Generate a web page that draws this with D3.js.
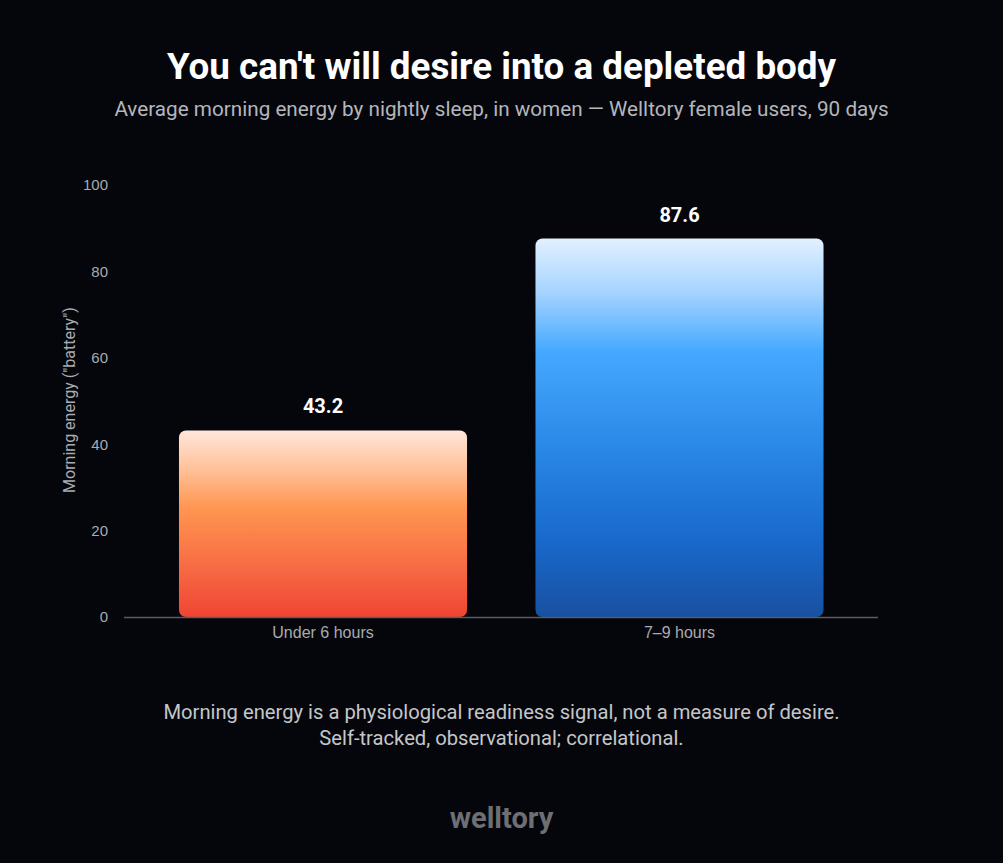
<!DOCTYPE html>
<html>
<head>
<meta charset="utf-8">
<script src="https://cdn.jsdelivr.net/npm/d3@7"></script>
<style>
  html, body { margin: 0; padding: 0; background: #05060b; }
  svg { display: block; font-family: Roboto, "Noto Sans", sans-serif; }
</style>
</head>
<body>
<svg id="chart" width="1003" height="863"></svg>
<script>
const categories = ["Under 6 hours", "7–9 hours"];
const energy = [43.2, 87.6];
const yTicks = [0, 20, 40, 60, 80, 100];

const title = "You can't will desire into a depleted body";
const subtitle = "Average morning energy by nightly sleep, in women — Welltory female users, 90 days";
const notes = [
    "Morning energy is a physiological readiness signal, not a measure of desire.",
    "Self-tracked, observational; correlational."
];

const svg = d3.select("#chart");
const W = 1003, H = 863;

svg.append("rect").attr("width", W).attr("height", H).attr("fill", "#05060b");

// Gradients
const defs = svg.append("defs");
const gradients = [
    { id: "grad-0", stops: [[0, "#ffe7dc"], [0.22, "#ffbf95"], [0.42, "#ff9550"], [0.7, "#f86f45"], [1, "#ef4534"]] },
    { id: "grad-1", stops: [[0, "#e2f1ff"], [0.14, "#a6d4ff"], [0.3, "#45a8ff"], [0.55, "#2a88e6"], [0.8, "#1869cc"], [1, "#1850a0"]] }
];
gradients.forEach(g => {
    const lg = defs.append("linearGradient")
        .attr("id", g.id)
        .attr("x1", 0).attr("y1", 0).attr("x2", 0).attr("y2", 1);
    g.stops.forEach(([o, c]) => lg.append("stop").attr("offset", o).attr("stop-color", c));
});
const gridFade = defs.append("linearGradient").attr("id", "grid-fade")
    .attr("x1", 0).attr("x2", 1).attr("y1", 0).attr("y2", 0);
gridFade.append("stop").attr("offset", 0).attr("stop-color", "#2a2c33").attr("stop-opacity", 0.3);
gridFade.append("stop").attr("offset", 0.06).attr("stop-color", "#2a2c33").attr("stop-opacity", 1);
gridFade.append("stop").attr("offset", 1).attr("stop-color", "#2a2c33").attr("stop-opacity", 1);

// Scales
const plotLeft = 124, plotRight = 878;
const yScale = d3.scaleLinear().domain([0, 100]).range([617, 185]);
const xScale = d3.scaleBand()
    .domain(categories)
    .range([144.75, 857.75])
    .paddingInner(0.192)
    .paddingOuter(0.096);

// Grid lines
svg.append("g")
    .selectAll("line")
    .data(yTicks.filter(t => t > 0))
    .enter().append("line")
    .attr("x1", plotLeft + 4).attr("x2", plotRight)
    .attr("y1", d => yScale(d)).attr("y2", d => yScale(d))
    .attr("stroke", "url(#grid-fade)")
    .attr("stroke-width", 1.2);

// Y axis
const yAxis = d3.axisLeft(yScale).tickValues(yTicks).tickSize(0).tickPadding(0);
svg.append("g")
    .attr("class", "y-axis")
    .attr("transform", "translate(108,0)")
    .call(yAxis)
    .call(g => g.select(".domain").remove())
    .selectAll("text")
    .attr("fill", "#a9abb0")
    .style("font-size", "15px");

// Bars
svg.append("g")
    .selectAll("rect")
    .data(energy)
    .enter().append("rect")
    .attr("x", (d, i) => xScale(categories[i]))
    .attr("y", d => yScale(d))
    .attr("width", xScale.bandwidth())
    .attr("height", d => yScale(0) - yScale(d))
    .attr("rx", 7)
    .attr("fill", (d, i) => `url(#grad-${i})`);

// Baseline
svg.append("line")
    .attr("x1", plotLeft).attr("x2", plotRight)
    .attr("y1", yScale(0) + 0.5).attr("y2", yScale(0) + 0.5)
    .attr("stroke", "#5a5c63").attr("stroke-width", 1.5);

// X axis labels
const xAxis = d3.axisBottom(xScale).tickSize(0).tickPadding(0);
svg.append("g")
    .attr("class", "x-axis")
    .attr("transform", `translate(0,${yScale(0) + 10})`)
    .call(xAxis)
    .call(g => g.select(".domain").remove())
    .selectAll("text")
    .attr("fill", "#a9abb0")
    .style("font-size", "16px")
    .attr("dy", "0.71em");

// Value labels
svg.append("g")
    .selectAll("text")
    .data(energy)
    .enter().append("text")
    .attr("x", (d, i) => xScale(categories[i]) + xScale.bandwidth() / 2)
    .attr("y", d => yScale(d) - 17)
    .attr("text-anchor", "middle")
    .attr("fill", "#ffffff")
    .style("font-size", "20px")
    .style("font-weight", "bold")
    .text(d => d.toFixed(1));

// Y axis label
svg.append("text")
    .attr("transform", "rotate(-90)")
    .attr("x", -400)
    .attr("y", 75)
    .attr("text-anchor", "middle")
    .attr("fill", "#a9abb0")
    .style("font-size", "16px")
    .text('Morning energy ("battery")');

// Title
svg.append("text")
    .attr("x", W / 2).attr("y", 79)
    .attr("text-anchor", "middle")
    .attr("fill", "#ffffff")
    .style("font-size", "36.8px")
    .style("font-weight", "bold")
    .text(title);

svg.append("text")
    .attr("x", W / 2).attr("y", 116)
    .attr("text-anchor", "middle")
    .attr("fill", "#b4b6bb")
    .style("font-size", "20.7px")
    .text(subtitle);

// Notes
svg.append("g")
    .selectAll("text")
    .data(notes)
    .enter().append("text")
    .attr("x", W / 2)
    .attr("y", (d, i) => 719 + i * 26)
    .attr("text-anchor", "middle")
    .attr("fill", "#c4c6ca")
    .style("font-size", "20.2px")
    .text(d => d);

// Logo
svg.append("text")
    .attr("x", W / 2).attr("y", 828)
    .attr("text-anchor", "middle")
    .attr("fill", "#6e6f74")
    .style("font-size", "29px")
    .style("font-weight", "bold")
    .text("welltory");
</script>
</body>
</html>
